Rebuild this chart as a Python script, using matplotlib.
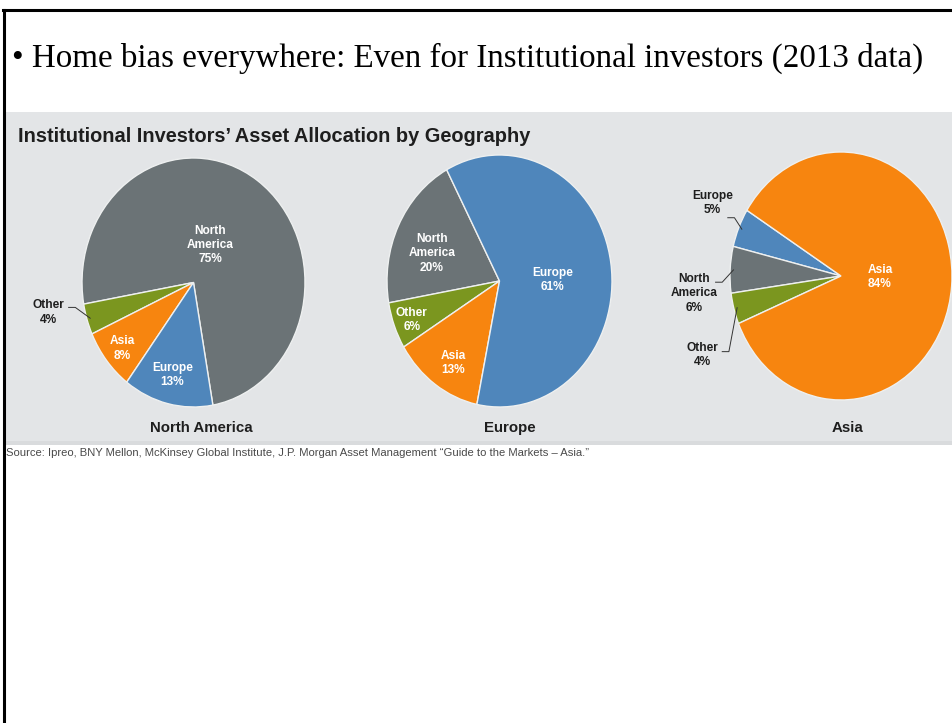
import matplotlib
matplotlib.use("Agg")
import matplotlib.pyplot as plt
from matplotlib.patches import Rectangle
from matplotlib.lines import Line2D
import numpy as np

W, H = 953, 723

# ---- data -------------------------------------------------------------
regions = ["North America", "Europe", "Asia"]

na_labels = ["North\nAmerica", "Other", "Asia", "Europe"]
na_values = [75, 4, 8, 13]

eu_labels = ["North\nAmerica", "Other", "Asia", "Europe"]
eu_values = [20, 6, 13, 61]

as_labels = ["Europe", "North\nAmerica", "Other", "Asia"]
as_values = [5, 6, 4, 84]

slice_colors = {
    "North\nAmerica": "#6b7376",
    "Europe": "#4f86bb",
    "Asia": "#f7850f",
    "Other": "#7b961f",
}

source_text = ("Source: Ipreo, BNY Mellon, McKinsey Global Institute, J.P. Morgan "
               "Asset Management \u201cGuide to the Markets \u2013 Asia.\u201d")

# ---- helpers (pixel -> figure fraction) --------------------------------
def fx(x):
    return x / W


def fy(y):
    return 1 - y / H


fig = plt.figure(figsize=(W / 100, H / 100), dpi=100)
fig.patch.set_facecolor("white")

# slide frame: top and left rules
fig.add_artist(Line2D([fx(3), fx(953)], [fy(10), fy(10)], color="black", lw=2.2))
fig.add_artist(Line2D([fx(4), fx(4)], [fy(10), fy(723)], color="black", lw=2.2))

fig.text(fx(12), fy(58), "\u2022 Home bias everywhere: Even for Institutional investors (2013 data)",
         family="Liberation Serif", fontsize=23.8, color="black", va="center", ha="left")

# grey chart panel (kept behind the pie axes)
fig.add_artist(Rectangle((fx(6), fy(445)), fx(953) - fx(6), fy(112) - fy(445),
                         transform=fig.transFigure, facecolor="#e3e5e7", edgecolor="none",
                         zorder=-5))
fig.add_artist(Rectangle((fx(6), fy(445)), fx(953) - fx(6), 4 / H,
                         transform=fig.transFigure, facecolor="#d9dbdd", edgecolor="none",
                         zorder=-4))

fig.text(fx(18), fy(136), "Institutional Investors\u2019 Asset Allocation by Geography",
         family="Liberation Sans", fontweight="bold", fontsize=14.4, color="#1e1e1e",
         va="center", ha="left")

fig.text(fx(6), fy(453), source_text, family="Liberation Sans", fontsize=8.1,
         color="#4a4a4a", va="center", ha="left")

# pie geometry in pixels: centre x, centre y, radius x, radius y
pie_boxes = [
    (193.5, 282.5, 111.5, 124.5),
    (499.5, 281.0, 112.5, 126.0),
    (841.0, 276.0, 111.0, 124.0),
]
start_angles = [280, 118, 148]
region_label_x = [201, 510, 848]

# label placement per pie, in pie-axes units
label_spots = [
    [(0.15, 0.30, "in"), (-1.30, -0.24, "out"), (-0.64, -0.53, "in"), (-0.19, -0.74, "in")],
    [(-0.60, 0.22, "in"), (-0.78, -0.31, "in"), (-0.41, -0.65, "in"), (0.47, 0.01, "in")],
    [(-1.16, 0.59, "out"), (-1.32, -0.14, "out"), (-1.25, -0.64, "out"), (0.35, -0.01, "in")],
]
# leader-line start points for outside labels
leader_starts = [
    {1: (-1.12, -0.20)},
    {},
    {0: (-1.02, 0.47), 1: (-1.13, -0.05), 2: (-1.07, -0.61)},
]

all_labels = [na_labels, eu_labels, as_labels]
all_values = [na_values, eu_values, as_values]

for i, ((cx, cy, rx, ry), labels, values, sa) in enumerate(
        zip(pie_boxes, all_labels, all_values, start_angles)):
    ax = fig.add_axes([fx(cx - rx), fy(cy + ry), 2 * rx / W, 2 * ry / H])
    ax.patch.set_alpha(0)
    wedges, _ = ax.pie(values, colors=[slice_colors[l] for l in labels],
                       startangle=sa, counterclock=True, radius=1.0,
                       wedgeprops=dict(edgecolor="#eef0f0", linewidth=1.0))
    ax.set_aspect("auto")
    ax.set_xlim(-1, 1)
    ax.set_ylim(-1, 1)
    ax.axis("off")

    for j, (lab, val, w) in enumerate(zip(labels, values, wedges)):
        lx, ly, kind = label_spots[i][j]
        txt = f"{lab}\n{val}%"
        col = "white" if kind == "in" else "#1e1e1e"
        ax.text(lx, ly, txt, ha="center", va="center", color=col,
                family="Liberation Sans", fontweight="bold", fontsize=8.6,
                linespacing=1.25, clip_on=False)
        if kind == "out":
            mid = np.deg2rad((w.theta1 + w.theta2) / 2)
            ex, ey = 0.97 * np.cos(mid), 0.97 * np.sin(mid)
            sx, sy = leader_starts[i][j]
            ax.plot([sx, sx + 0.06, ex], [sy, sy, ey], color="#333333", lw=0.7,
                    clip_on=False)

    fig.text(fx(region_label_x[i]), fy(428), regions[i], family="Liberation Sans",
             fontweight="bold", fontsize=10.8, color="#1e1e1e", ha="center", va="center")

fig.savefig("out.png", dpi=100, facecolor="white")
